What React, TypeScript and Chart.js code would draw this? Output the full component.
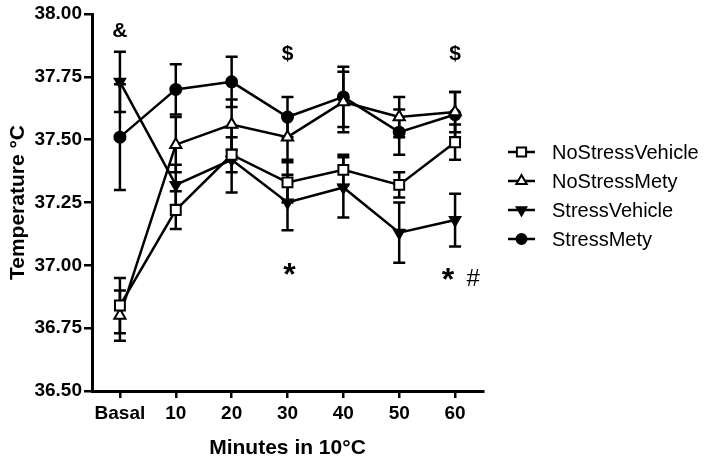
import React, { useEffect, useRef } from "react";
import { Chart, registerables } from "chart.js";

Chart.register(...registerables);

const categories = ["Basal", "10", "20", "30", "40", "50", "60"];
const seriesNames = ["NoStressVehicle", "NoStressMety", "StressVehicle", "StressMety"];

const noStressVehicle = [36.84, 37.22, 37.44, 37.33, 37.38, 37.32, 37.49];
const noStressVehicleErr = [0.11, 0.075, 0.07, 0.08, 0.06, 0.05, 0.07];
const noStressMety = [36.8, 37.48, 37.56, 37.51, 37.65, 37.59, 37.61];
const noStressMetyErr = [0.1, 0.11, 0.1, 0.09, 0.12, 0.08, 0.08];
const stressVehicle = [37.73, 37.32, 37.42, 37.25, 37.31, 37.13, 37.18];
const stressVehicleErr = [0.12, 0.08, 0.13, 0.11, 0.12, 0.12, 0.105];
const stressMety = [37.51, 37.7, 37.73, 37.59, 37.67, 37.53, 37.6];
const stressMetyErr = [0.21, 0.1, 0.1, 0.08, 0.12, 0.09, 0.09];

const yTicks = [36.5, 36.75, 37.0, 37.25, 37.5, 37.75, 38.0];

// annotations: [category index, value, text]
const annotationCats = [0, 3, 6, 3, 6];
const annotationVals = [37.93, 37.84, 37.84, 36.97, 36.95];
const annotationTexts = ["&", "$", "$", "*", "*  #"];

const FONT = "'Liberation Sans', Arial, Helvetica, sans-serif";

const pointStyles = ["rect", "triangle", "triangle", "circle"];
const pointRotations = [0, 0, 180, 0];
const pointRadii = [7, 6.5, 6, 5.5];
const pointFills = ["#ffffff", "#ffffff", "#000000", "#000000"];

export default function App() {
  const ref = useRef<HTMLCanvasElement | null>(null);

  useEffect(() => {
    if (!ref.current) return;
    const values = [noStressVehicle, noStressMety, stressVehicle, stressMety];
    const errs = [noStressVehicleErr, noStressMetyErr, stressVehicleErr, stressMetyErr];

    function drawMarker(ctx: any, style: string, r: number, rot: number, x: number, y: number, fill: string) {
      ctx.save();
      ctx.translate(x, y);
      ctx.rotate((rot * Math.PI) / 180);
      ctx.beginPath();
      if (style === "rect") {
        const s = r * Math.SQRT1_2;
        ctx.rect(-s, -s, 2 * s, 2 * s);
      } else if (style === "triangle") {
        ctx.moveTo(0, -r);
        ctx.lineTo(r * 0.866, r * 0.5);
        ctx.lineTo(-r * 0.866, r * 0.5);
        ctx.closePath();
      } else {
        ctx.arc(0, 0, r, 0, Math.PI * 2);
      }
      ctx.fillStyle = fill;
      ctx.fill();
      ctx.strokeStyle = "#000";
      ctx.lineWidth = 2;
      ctx.stroke();
      ctx.restore();
    }

    const errorBarPlugin = {
      id: "errorBars",
      beforeDatasetsDraw(chart: any) {
        const ctx = chart.ctx;
        const xs = chart.scales.x;
        const ys = chart.scales.y;
        ctx.save();
        ctx.strokeStyle = "#000";
        ctx.lineWidth = 2.5;
        values.forEach((arr, s) => {
          arr.forEach((v, i) => {
            const e = errs[s][i];
            const x = xs.getPixelForValue(i);
            const yt = ys.getPixelForValue(v + e);
            const yb = ys.getPixelForValue(v - e);
            ctx.beginPath();
            ctx.moveTo(x, yt);
            ctx.lineTo(x, yb);
            ctx.moveTo(x - 6, yt);
            ctx.lineTo(x + 6, yt);
            ctx.moveTo(x - 6, yb);
            ctx.lineTo(x + 6, yb);
            ctx.stroke();
          });
        });
        ctx.restore();
      },
    };

    const annotationPlugin = {
      id: "annotations",
      afterDraw(chart: any) {
        const ctx = chart.ctx;
        const xs = chart.scales.x;
        const ys = chart.scales.y;
        ctx.save();
        ctx.fillStyle = "#000";
        ctx.textAlign = "center";
        annotationTexts.forEach((t, k) => {
          const x = xs.getPixelForValue(annotationCats[k]);
          const y = ys.getPixelForValue(annotationVals[k]);
          if (t.startsWith("*")) {
            const parts = t.split(/\s+/);
            ctx.font = `bold 32px ${FONT}`;
            ctx.textBaseline = "alphabetic";
            if (parts.length > 1) {
              ctx.fillText("*", x - 7, y + 12);
              ctx.font = `24px ${FONT}`;
              ctx.textBaseline = "middle";
              ctx.fillText(parts[1], x + 18, y + 1);
            } else {
              ctx.fillText("*", x + 2, y + 12);
            }
          } else {
            ctx.font = `bold 21px ${FONT}`;
            ctx.textBaseline = "middle";
            ctx.fillText(t, x, y);
          }
        });

        // legend
        const lx = chart.chartArea.right + 25;
        const ly0 = chart.chartArea.top + 138;
        seriesNames.forEach((name, s) => {
          const y = ly0 + s * 29;
          ctx.strokeStyle = "#000";
          ctx.lineWidth = 2.5;
          ctx.beginPath();
          ctx.moveTo(lx, y);
          ctx.lineTo(lx + 27, y);
          ctx.stroke();
          drawMarker(ctx, pointStyles[s], pointRadii[s] - 0.5, pointRotations[s], lx + 13.5, y, pointFills[s]);
          ctx.fillStyle = "#000";
          ctx.font = `20px ${FONT}`;
          ctx.textAlign = "left";
          ctx.textBaseline = "middle";
          ctx.fillText(name, lx + 44, y + 1);
        });
        ctx.restore();
      },
    };

    const chart = new Chart(ref.current, {
      type: "line",
      data: {
        labels: categories,
        datasets: seriesNames.map((name, s) => ({
          label: name,
          data: values[s],
          borderColor: "#000",
          borderWidth: 2.5,
          backgroundColor: pointFills[s],
          pointStyle: pointStyles[s] as any,
          pointRotation: pointRotations[s],
          pointRadius: pointRadii[s],
          pointBorderWidth: 2,
          pointBorderColor: "#000",
          pointBackgroundColor: pointFills[s],
          tension: 0,
          fill: false,
        })),
      },
      options: {
        animation: false,
        responsive: true,
        maintainAspectRatio: false,
        layout: { padding: { top: 14, right: 231, bottom: 0, left: 0 } },
        plugins: {
          legend: { display: false },
          tooltip: { enabled: false },
        },
        scales: {
          x: {
            type: "category",
            offset: true,
            grid: {
              display: true,
              drawOnChartArea: false,
              drawTicks: true,
              tickLength: 7,
              color: "#000",
              lineWidth: 2.5,
              offset: false,
            },
            border: { display: true, color: "#000", width: 3 },
            ticks: {
              color: "#000",
              font: { family: FONT, size: 19, weight: "bold" },
              padding: 4,
              maxRotation: 0,
            },
            title: {
              display: true,
              text: "Minutes in 10\u00B0C",
              color: "#000",
              font: { family: FONT, size: 21, weight: "bold" },
              padding: { top: 0, bottom: 0 },
            },
            afterFit(scale: any) {
              scale.height = 70;
            },
          },
          y: {
            type: "linear",
            min: 36.5,
            max: 38,
            afterBuildTicks(scale: any) {
              scale.ticks = yTicks.map((v) => ({ value: v }));
            },
            grid: {
              display: true,
              drawOnChartArea: false,
              drawTicks: true,
              tickLength: 8,
              color: "#000",
              lineWidth: 2.5,
            },
            border: { display: true, color: "#000", width: 3 },
            ticks: {
              color: "#000",
              font: { family: FONT, size: 19, weight: "bold" },
              padding: 2,
              callback: (v: any) => Number(v).toFixed(2),
            },
            title: {
              display: true,
              text: "Temperature \u00B0C",
              color: "#000",
              font: { family: FONT, size: 21, weight: "bold" },
              padding: { top: 6, bottom: 0 },
            },
            afterFit(scale: any) {
              scale.width = 92;
            },
          },
        },
      },
      plugins: [errorBarPlugin, annotationPlugin],
    });
    return () => chart.destroy();
  }, []);

  return (
    <div style={{ position: "fixed", left: 0, top: 0, width: 714, height: 461, background: "#fff" }}>
      <canvas ref={ref} />
    </div>
  );
}
